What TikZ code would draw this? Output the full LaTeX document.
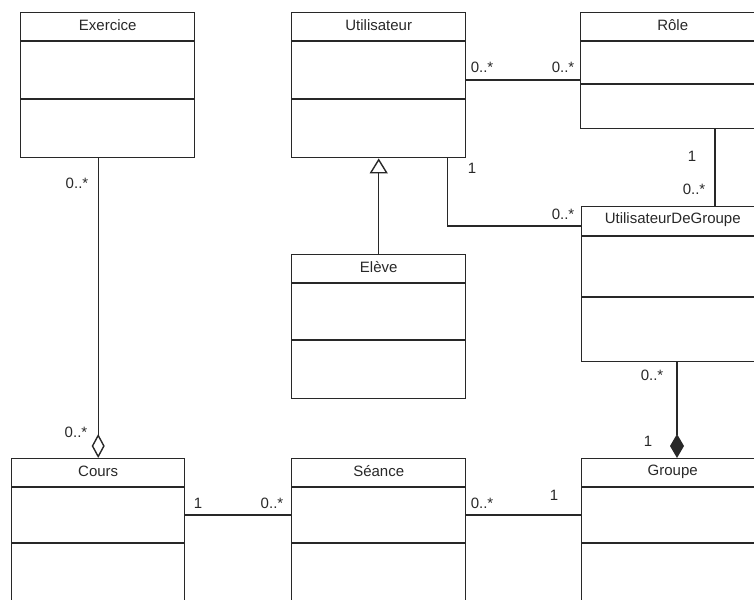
\documentclass[tikz,border=0pt]{standalone}
\usepackage{fontspec}
\setmainfont{Liberation Sans}
\usetikzlibrary{calc, positioning, arrows.meta}
\definecolor{trait}{RGB}{40,40,40}

\begin{document}
\begin{tikzpicture}[x=1pt, y=-1pt, font=\fontsize{15}{18}\selectfont,
			classe/.style={draw=trait, line width=1.4pt, anchor=north west, inner sep=0pt},
			titre/.style={inner sep=0pt, text=trait},
			mult/.style={inner sep=0pt, text=trait},
			lien/.style={draw=trait, line width=1.4pt}]
			\useasboundingbox (0,0) rectangle (754,599);
			\clip (0,0) rectangle (754,599);
			% classes : nom/titre/x/y/largeur/hauteur/separations
			\foreach \nom/\titre/\x/\y/\w/\h/\da/\db in {
				exercice/Exercice/20/12/174/145/29/87,
				utilisateur/Utilisateur/291/12/174/145/29/87,
				role/Rôle/580/12/184/116/29/72,
				udg/UtilisateurDeGroupe/581/206/182/155/30/91,
				eleve/Elève/291/254/174/144/29/86,
				cours/Cours/11/458/173/200/29/85,
				seance/Séance/291/458/174/200/29/85,
				groupe/Groupe/581/458/182/200/29/85} {
				\node[classe, minimum width=\w pt, minimum height=\h pt] (\nom) at (\x,\y) {};
				\node[titre] (\nom-t) at ($(\nom.north)+(0,\da/2-1)$) {\titre};
				\draw[trait, line width=1.4pt] ($(\nom.north west)+(0,\da)$) -- ($(\nom.north east)+(0,\da)$);
				\draw[trait, line width=1.4pt] ($(\nom.north west)+(0,\db)$) -- ($(\nom.north east)+(0,\db)$);
			};
			
			% associations
			\coordinate (u1) at ($(utilisateur.north east)+(0,68)$);
			\draw[lien] (u1) -- (u1 -| role.west);
			\coordinate (u2) at ($(utilisateur.south east)+(-19,0)$);
			\draw[lien] (u2) |- ($(udg.north west)+(0,20)$);
			\draw[lien] ($(role.south west)+(135,0)$) -- ($(udg.north west)+(134,0)$);
			\coordinate (c1) at ($(cours.north east)+(0,57)$);
			\draw[lien] (c1) -- (c1 -| seance.west);
			\coordinate (s1) at ($(seance.north east)+(0,57)$);
			\draw[lien] (s1) -- (s1 -| groupe.west);
			
			% heritage, agregation, composition
			\draw[lien, -{Triangle[open, length=15pt, width=18pt]}] (eleve.north) -- (utilisateur.south);
			\draw[lien, -{Diamond[open, length=24pt, width=13pt]}] (exercice.south -| cours.north) -- (cours.north);
			\coordinate (g1) at ($(groupe.north west)+(96,0)$);
			\draw[lien, -{Diamond[length=24pt, width=14pt]}] (udg.south -| g1) -- (g1);
			
			% multiplicites
			\node[mult] (m1) at (77,183) {0..*};
			\node[mult] (m2) at (76,432) {0..*};
			\node[mult] (m3) at (482,67) {0..*};
			\node[mult] (m4) at (563,67) {0..*};
			\node[mult] (m5) at (472,168) {1};
			\node[mult] (m6) at (563,214) {0..*};
			\node[mult] (m7) at (692,156) {1};
			\node[mult] (m8) at (694,189) {0..*};
			\node[mult] (m9) at (652,375) {0..*};
			\node[mult] (m10) at (648,441) {1};
			\node[mult] (m11) at (198,503) {1};
			\node[mult] (m12) at (272,503) {0..*};
			\node[mult] (m13) at (482,503) {0..*};
			\node[mult] (m14) at (554,495) {1};
		\end{tikzpicture}
\end{document}
